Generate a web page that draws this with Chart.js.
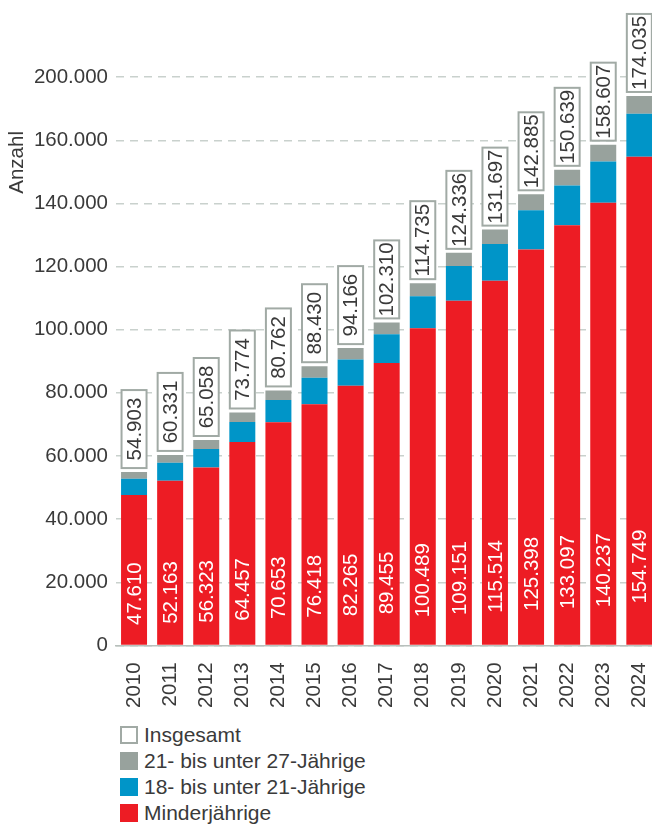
<!DOCTYPE html>
<html lang="de">
<head>
<meta charset="utf-8">
<title>Anzahl 2010–2024</title>
<script src="https://cdn.jsdelivr.net/npm/chart.js@4.4.1/dist/chart.umd.min.js"></script>
<style>
    html, body { margin: 0; padding: 0; background: #ffffff; overflow: hidden; }
    #wrap { width: 673px; }
    #legend { margin: 5px 0 0 120px; padding: 0; list-style: none;
              font: 21px "Liberation Sans", Arial, sans-serif; color: #3a3a3a; }
    #legend li { height: 26px; display: flex; align-items: center; }
    #legend .box { width: 18px; height: 18px; margin-right: 6px; box-sizing: border-box; }
</style>
</head>
<body>
<div id="wrap">
    <canvas id="graphCanvas" width="673" height="717"></canvas>
    <ul id="legend"></ul>
</div>
<script>
var jahre = ['2010', '2011', '2012', '2013', '2014', '2015', '2016', '2017',
             '2018', '2019', '2020', '2021', '2022', '2023', '2024'];
var minderjaehrige = [47610, 52163, 56323, 64457, 70653, 76418, 82265, 89455,
                      100489, 109151, 115514, 125398, 133097, 140237, 154749];
var bis21 = [5150, 5660, 5920, 6310, 7070, 8350, 8330, 9130,
             10100, 11020, 11600, 12460, 12560, 13000, 13650];
var bis27 = [2143, 2508, 2815, 3007, 3039, 3662, 3571, 3725,
             4146, 4165, 4583, 5027, 4982, 5370, 5636];
var insgesamt = [54903, 60331, 65058, 73774, 80762, 88430, 94166, 102310,
                 114735, 124336, 131697, 142885, 150639, 158607, 174035];
var yTicks = [0, 20000, 40000, 60000, 80000, 100000, 120000, 140000, 160000, 180000];
var yTickLabels = ['0', '20.000', '40.000', '60.000', '80.000', '100.000',
                   '120.000', '140.000', '160.000', '200.000'];

var FONT = '"Liberation Sans", Arial, sans-serif';
var TEXT = '#3a3a3a';

function fmt(n) {
    return String(n).replace(/\B(?=(\d{3})+(?!\d))/g, '.');
}

function rotatedText(ctx, text, x, y, color) {
    ctx.save();
    ctx.translate(x, y);
    ctx.rotate(-Math.PI / 2);
    ctx.fillStyle = color;
    ctx.textAlign = 'center';
    ctx.textBaseline = 'middle';
    ctx.fillText(text, 0, 1);
    ctx.restore();
}

// value labels: white inside the red bars, boxed totals above the stacks
var labelPlugin = {
    id: 'labels',
    afterDatasetsDraw: function (chart) {
        var ctx = chart.ctx;
        var y = chart.scales.y;
        var bars = chart.getDatasetMeta(0).data;
        ctx.save();
        ctx.font = '20.5px ' + FONT;
        bars.forEach(function (bar, i) {
            var mid = y.getPixelForValue(12600 + 0.08 * minderjaehrige[i]);
            rotatedText(ctx, fmt(minderjaehrige[i]), bar.x, mid, '#ffffff');

            var top = y.getPixelForValue(insgesamt[i]);
            var w = 25, h = 78, gap = 4;
            ctx.fillStyle = '#ffffff';
            ctx.strokeStyle = '#a1aaa5';
            ctx.lineWidth = 2;
            ctx.fillRect(bar.x - w / 2, top - gap - h, w, h);
            ctx.strokeRect(bar.x - w / 2, top - gap - h, w, h);
            rotatedText(ctx, fmt(insgesamt[i]), bar.x, top - gap - h / 2, TEXT);
        });
        // axis title
        ctx.font = '20.5px ' + FONT;
        rotatedText(ctx, 'Anzahl', 16, y.getPixelForValue(153000), TEXT);
        ctx.restore();
    }
};

Chart.defaults.font.family = FONT;
Chart.defaults.font.size = 20.5;
Chart.defaults.color = TEXT;

var chart = new Chart(document.getElementById('graphCanvas'), {
    type: 'bar',
    data: {
        labels: jahre,
        datasets: [{
            label: 'Minderjährige',
            data: minderjaehrige,
            backgroundColor: '#ed1c24'
        }, {
            label: '18- bis unter 21-Jährige',
            data: bis21,
            backgroundColor: '#0095c8'
        }, {
            label: '21- bis unter 27-Jährige',
            data: bis27,
            backgroundColor: '#98a29d'
        }]
    },
    options: {
        responsive: false,
        animation: false,
        datasets: {
            bar: { categoryPercentage: 0.8, barPercentage: 0.9, borderWidth: 0 }
        },
        layout: { padding: { top: 0, right: 2, bottom: 0, left: 0 } },
        plugins: {
            legend: { display: false },
            tooltip: { enabled: false }
        },
        scales: {
            x: {
                stacked: true,
                grid: { display: false },
                border: { display: true, color: '#b8c0bc', width: 1.5 },
                ticks: { minRotation: 90, maxRotation: 90, padding: 9, autoSkip: false }
            },
            y: {
                stacked: true,
                min: 0,
                max: 198000,
                afterBuildTicks: function (scale) {
                    scale.ticks = yTicks.map(function (v) { return { value: v }; });
                },
                afterFit: function (scale) {
                    scale.width = 116;
                },
                grid: { color: '#c9d1cd', lineWidth: 1.5, drawTicks: false },
                border: { display: false, dash: [8, 6] },
                ticks: {
                    padding: 8,
                    callback: function (value, index) {
                        return yTickLabels[index];
                    }
                }
            }
        }
    },
    plugins: [labelPlugin]
});

// legend, one entry per line, totals first
var legend = document.getElementById('legend');
var items = [{ text: 'Insgesamt', fill: '#ffffff', border: '2px solid #a1aaa5' }];
chart.data.datasets.slice().reverse().forEach(function (ds) {
    items.push({ text: ds.label, fill: ds.backgroundColor, border: 'none' });
});
items.forEach(function (it) {
    var li = document.createElement('li');
    var box = document.createElement('span');
    box.className = 'box';
    box.style.background = it.fill;
    box.style.border = it.border;
    li.appendChild(box);
    li.appendChild(document.createTextNode(it.text));
    legend.appendChild(li);
});
</script>
</body>
</html>
